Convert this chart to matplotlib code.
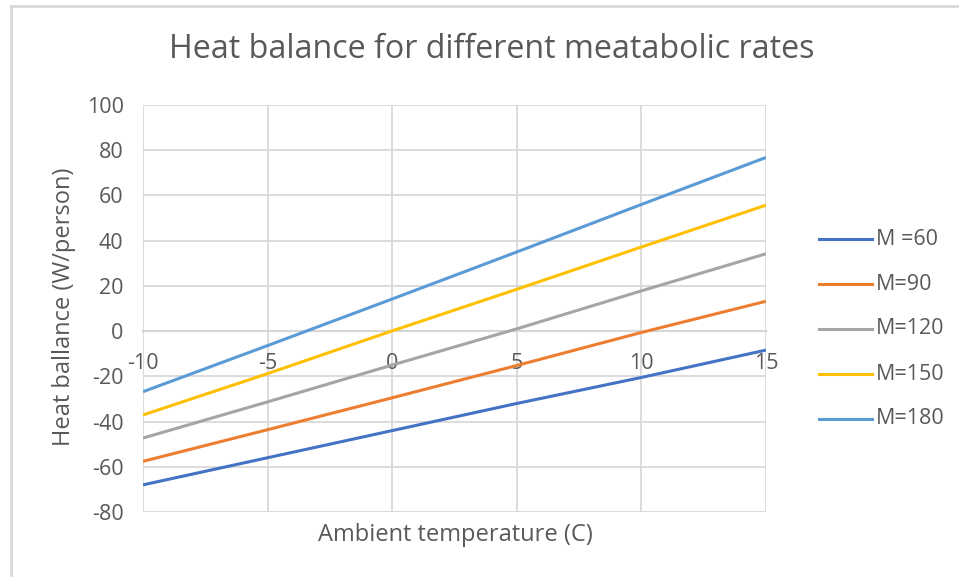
import numpy as np
import matplotlib.pyplot as plt
from matplotlib.lines import Line2D

plt.rcParams["font.family"] = ["Open Sans", "DejaVu Sans"]
plt.rcParams["axes.unicode_minus"] = False

# data
temps = [-10, -5, 0, 5, 10, 15]
m60 = [-68, -56, -44, -32, -20.5, -8.4]
m90 = [-57.6, -43.6, -29.5, -15.2, -0.6, 13.2]
m120 = [-47.3, -31.3, -15.0, 1.0, 17.8, 34.2]
m150 = [-37.1, -18.8, 0.1, 18.5, 37.2, 55.7]
m180 = [-26.8, -6.4, 14.2, 35.0, 56.0, 76.8]
labels = ["M =60", "M=90", "M=120", "M=150", "M=180"]
colors = ["#4472C4", "#ED7D31", "#A5A5A5", "#FFC000", "#5B9BD5"]

TXT = "#595959"

fig = plt.figure(figsize=(9.59, 5.77), dpi=100)
ax = fig.add_axes([143 / 959, 1 - 512 / 577, 623 / 959, 407 / 577])

for ys, c, lab in zip([m60, m90, m120, m150, m180], colors, labels):
    ax.plot(temps, ys, color=c, lw=2.2, label=lab, solid_capstyle="butt", zorder=3)

ax.set_xlim(-10, 15)
ax.set_ylim(-80, 100)
ax.set_xticks(np.arange(-10, 16, 5))
ax.set_yticks(np.arange(-80, 101, 20))

ax.grid(True, color="#d9d9d9", lw=1.3, zorder=0)
for s in ["top", "right", "left"]:
    ax.spines[s].set_visible(False)
ax.spines["bottom"].set_position(("data", 0))
ax.spines["bottom"].set_color("#bfbfbf")
ax.spines["bottom"].set_linewidth(1.5)
ax.spines["bottom"].set_zorder(1)
ax.tick_params(axis="both", length=0, labelsize=15.5, labelcolor=TXT)
ax.tick_params(axis="x", pad=16)
ax.tick_params(axis="y", pad=14)

fig.text(455 / 959, 1 - 535 / 577, "Ambient temperature (C)", ha="center", va="center",
         fontsize=17, color=TXT)
fig.text(64 / 959, 1 - 307 / 577, "Heat ballance (W/person)", ha="center", va="center",
         rotation=90, fontsize=17, color=TXT)
fig.text(492 / 959, 1 - 50 / 577, "Heat balance for different meatabolic rates",
         ha="center", va="center", fontsize=23.2, color=TXT)

# legend drawn by hand to match the spacing
for i, (c, lab) in enumerate(zip(colors, labels)):
    yy = 1 - (239 + 45 * i) / 577
    fig.add_artist(Line2D([819 / 959, 872 / 959], [yy, yy], color=c, lw=2.2,
                          transform=fig.transFigure))
    fig.text(876 / 959, yy, lab, ha="left", va="center", fontsize=15.5, color=TXT)

# chart frame (top and left edges visible)
fig.add_artist(Line2D([11 / 959, 1], [1 - 6 / 577, 1 - 6 / 577], color="#d9d9d9", lw=2,
                      transform=fig.transFigure))
fig.add_artist(Line2D([11 / 959, 11 / 959], [0, 1 - 6 / 577], color="#d9d9d9", lw=2,
                      transform=fig.transFigure))

fig.savefig("out.png", dpi=100)
